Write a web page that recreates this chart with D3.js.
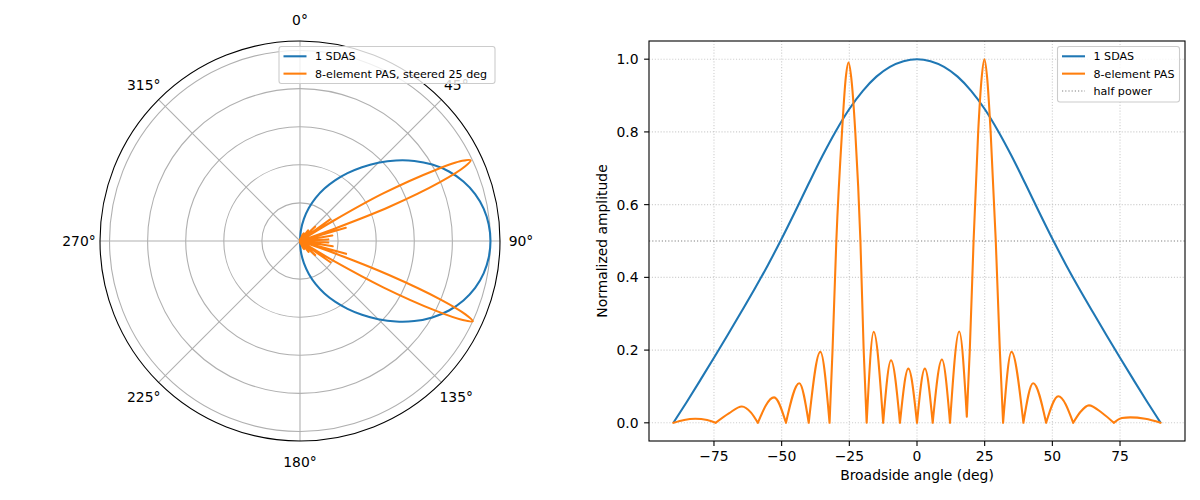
<!DOCTYPE html>
<html><head><meta charset="utf-8">
<script src="https://cdn.jsdelivr.net/npm/d3@7"></script>
<style>
html,body{margin:0;padding:0;background:#fff;}
svg{display:block;font-family:"DejaVu Sans",sans-serif;}
</style></head><body>
<svg id="chart" width="1200" height="500"></svg>
<script>
// ---- data ----
const sdasAngles = [-90,-85,-80,-75,-70,-65,-60,-55,-50,-45,-40,-35,-30,-25,-20,-15,-10,-5,0,5,10,15,20,25,30,35,40,45,50,55,60,65,70,75,80,85,90];
const sdasValues = [0,0.058,0.118,0.179,0.241,0.304,0.368,0.435,0.506,0.581,0.658,0.733,0.802,0.863,0.913,0.952,0.979,0.9946,1.0,
  0.9946,0.979,0.952,0.913,0.863,0.802,0.733,0.658,0.581,0.506,0.435,0.368,0.304,0.241,0.179,0.118,0.058,0];

const pasAngles = [-90,-86,-81.9,-77.5,-74.4,-69.5,-64.7,-61.3,-58.8,-52.8,-48.4,-43.5,-40.0,-35.7,-32.3,
  -31.2,-29.8,-27.7,-26.3,-25.3,-24.3,-22.8,-20.9,-19.7,-18.6,-16.0,-12.5,-9.6,-6.3,-3.2,0,
  2.9,5.8,9.2,12.2,15.6,18.4,19.5,20.9,22.6,23.9,24.9,25.9,27.2,29.1,30.6,31.8,34.9,39.3,42.9,47.7,
  52.2,57.7,60.5,63.5,68.4,72.7,75.7,78.8,84.3,90];
const pasValues = [0,0.008,0.011,0.008,0,0.026,0.045,0.028,0,0.070,0,0.109,0,0.195,0,
  0.2,0.5,0.8,0.95,0.991,0.95,0.8,0.5,0.2,0,0.250,0,0.172,0,0.149,0,
  0.149,0,0.174,0,0.251,0.017,0.2,0.5,0.8,0.95,1.0,0.95,0.8,0.5,0.2,0,0.195,0,0.109,0,
  0.073,0,0.031,0.048,0.027,0,0.013,0.015,0.011,0];

const xTicks = [-75,-50,-25,0,25,50,75];
const yTicks = [0.0,0.2,0.4,0.6,0.8,1.0];
const polarAngleTicks = [0,45,90,135,180,225,270,315];
const polarRadialTicks = [0.2,0.4,0.6,0.8,1.0];
const halfPowerLevel = 0.5;
const polarLegendLabels = ["1 SDAS","8-element PAS, steered 25 deg"];
const cartLegendLabels = ["1 SDAS","8-element PAS","half power"];

// ---- styles ----
const BLUE = "#1f77b4", ORANGE = "#ff7f0e";
const LW = 2.08, THIN = 1.1;
const svg = d3.select("#chart");
const FS = 13.9, LFS = 11.1;

const sdas = sdasAngles.map((a,i)=>[a, sdasValues[i]]);
const pas = pasAngles.map((a,i)=>[a, pasValues[i]]);

function splitLobes(pts){
  const lobes=[]; let cur=[pts[0]];
  for(let i=1;i<pts.length;i++){
    cur.push(pts[i]);
    const isMin = i<pts.length-1 && pts[i][1]<=pts[i-1][1] && pts[i][1]<=pts[i+1][1];
    if(isMin){ lobes.push(cur); cur=[pts[i]]; }
  }
  if(cur.length>1) lobes.push(cur);
  return lobes;
}
const pasLobes = splitLobes(pas);

// ================= POLAR =================
const cx = 300, cy = 241, R = 200;
const rScale = d3.scaleLinear().domain([0,1.05]).range([0,R]);
const gp = svg.append("g").attr("transform",`translate(${cx},${cy})`);

gp.selectAll("circle.rg").data(polarRadialTicks).enter().append("circle")
  .attr("r", d=>rScale(d)).attr("fill","none").attr("stroke","#b0b0b0").attr("stroke-width",THIN);
gp.selectAll("line.ag").data(polarAngleTicks).enter().append("line")
  .attr("x1",0).attr("y1",0)
  .attr("x2", d=>R*Math.sin(d*Math.PI/180))
  .attr("y2", d=>-R*Math.cos(d*Math.PI/180))
  .attr("stroke","#b0b0b0").attr("stroke-width",THIN);

const radial = d3.lineRadial()
  .angle(d=>(90+d[0])*Math.PI/180)
  .radius(d=>rScale(d[1]))
  .curve(d3.curveCatmullRom.alpha(0.5));

gp.append("path").attr("d", radial(sdas)).attr("fill","none")
  .attr("stroke",BLUE).attr("stroke-width",LW).attr("stroke-linejoin","round");
gp.append("path").attr("d", pasLobes.map(l=>radial(l)).join("")).attr("fill","none")
  .attr("stroke",ORANGE).attr("stroke-width",LW).attr("stroke-linejoin","round").attr("stroke-linecap","round");

gp.append("circle").attr("r",R).attr("fill","none").attr("stroke","#000").attr("stroke-width",THIN);

gp.selectAll("text.al").data(polarAngleTicks).enter().append("text")
  .attr("x", d=>221*Math.sin(d*Math.PI/180))
  .attr("y", d=>-221*Math.cos(d*Math.PI/180))
  .attr("dy","0.36em").attr("text-anchor","middle")
  .attr("font-size",FS).attr("fill","#000")
  .text(d=>d+"°");

function legend(x, y, w, h, items){
  const g = svg.append("g");
  g.append("rect").attr("x",x).attr("y",y).attr("width",w).attr("height",h)
    .attr("rx",2.5).attr("fill","#fff").attr("fill-opacity",0.8)
    .attr("stroke","#cccccc").attr("stroke-width",THIN);
  items.forEach((it,i)=>{
    const yy = y + 9.8 + i*17.35;
    const ln = g.append("line").attr("x1",x+4.5).attr("x2",x+27.5).attr("y1",yy).attr("y2",yy)
      .attr("stroke",it.color).attr("stroke-width",it.width);
    if(it.dash) ln.attr("stroke-dasharray",it.dash);
    g.append("text").attr("x",x+36).attr("y",yy).attr("dy","0.36em")
      .attr("font-size",LFS).attr("fill","#000").text(it.label);
  });
}
legend(279, 46.5, 216, 37, [
  {label:polarLegendLabels[0], color:BLUE, width:LW},
  {label:polarLegendLabels[1], color:ORANGE, width:LW}
]);

// ================= CARTESIAN =================
const L = 649, Rr = 1185, T = 41, B = 441;
const x = d3.scaleLinear().domain([-99,99]).range([L,Rr]);
const y = d3.scaleLinear().domain([-0.05,1.05]).range([B,T]);
const gc = svg.append("g");

gc.selectAll("line.xg").data(xTicks).enter().append("line")
  .attr("x1",d=>x(d)).attr("x2",d=>x(d)).attr("y1",T).attr("y2",B)
  .attr("stroke","#b0b0b0").attr("stroke-width",THIN).attr("stroke-dasharray","1.1,1.8").attr("opacity",0.6);
gc.selectAll("line.yg").data(yTicks).enter().append("line")
  .attr("x1",L).attr("x2",Rr).attr("y1",d=>y(d)).attr("y2",d=>y(d))
  .attr("stroke","#b0b0b0").attr("stroke-width",THIN).attr("stroke-dasharray","1.1,1.8").attr("opacity",0.6);

gc.append("line").attr("x1",L).attr("x2",Rr).attr("y1",y(halfPowerLevel)).attr("y2",y(halfPowerLevel))
  .attr("stroke","#808080").attr("stroke-width",1.2).attr("stroke-dasharray","1.2,2");

const lineC = d3.line().x(d=>x(d[0])).y(d=>y(d[1])).curve(d3.curveMonotoneX);
gc.append("path").attr("d", lineC(sdas)).attr("fill","none")
  .attr("stroke",BLUE).attr("stroke-width",LW).attr("stroke-linejoin","round");
gc.append("path").attr("d", pasLobes.map(l=>lineC(l)).join("")).attr("fill","none")
  .attr("stroke",ORANGE).attr("stroke-width",LW).attr("stroke-linejoin","round").attr("stroke-linecap","round");

gc.append("rect").attr("x",L).attr("y",T).attr("width",Rr-L).attr("height",B-T)
  .attr("fill","none").attr("stroke","#000").attr("stroke-width",THIN);

const fmtX = d => (d<0 ? "\u2212"+Math.abs(d) : String(d));
gc.selectAll("line.xt").data(xTicks).enter().append("line")
  .attr("x1",d=>x(d)).attr("x2",d=>x(d)).attr("y1",B).attr("y2",B+4.9)
  .attr("stroke","#000").attr("stroke-width",THIN);
gc.selectAll("text.xt").data(xTicks).enter().append("text")
  .attr("x",d=>x(d)).attr("y",461).attr("text-anchor","middle")
  .attr("font-size",FS).attr("fill","#000").text(fmtX);
gc.selectAll("line.yt").data(yTicks).enter().append("line")
  .attr("x1",L-4.9).attr("x2",L).attr("y1",d=>y(d)).attr("y2",d=>y(d))
  .attr("stroke","#000").attr("stroke-width",THIN);
gc.selectAll("text.yt").data(yTicks).enter().append("text")
  .attr("x",638.5).attr("y",d=>y(d)).attr("dy","0.36em").attr("text-anchor","end")
  .attr("font-size",FS).attr("fill","#000").text(d=>d3.format(".1f")(d));

gc.append("text").attr("x",x(0)).attr("y",480).attr("text-anchor","middle")
  .attr("font-size",FS).attr("fill","#000").text("Broadside angle (deg)");
gc.append("text").attr("transform",`translate(607,${(T+B)/2}) rotate(-90)`).attr("text-anchor","middle")
  .attr("font-size",FS).attr("fill","#000").text("Normalized amplitude");

legend(1057.5, 46.5, 122, 55.5, [
  {label:cartLegendLabels[0], color:BLUE, width:LW},
  {label:cartLegendLabels[1], color:ORANGE, width:LW},
  {label:cartLegendLabels[2], color:"#808080", width:1.2, dash:"1.2,2"}
]);
</script>
</body></html>
